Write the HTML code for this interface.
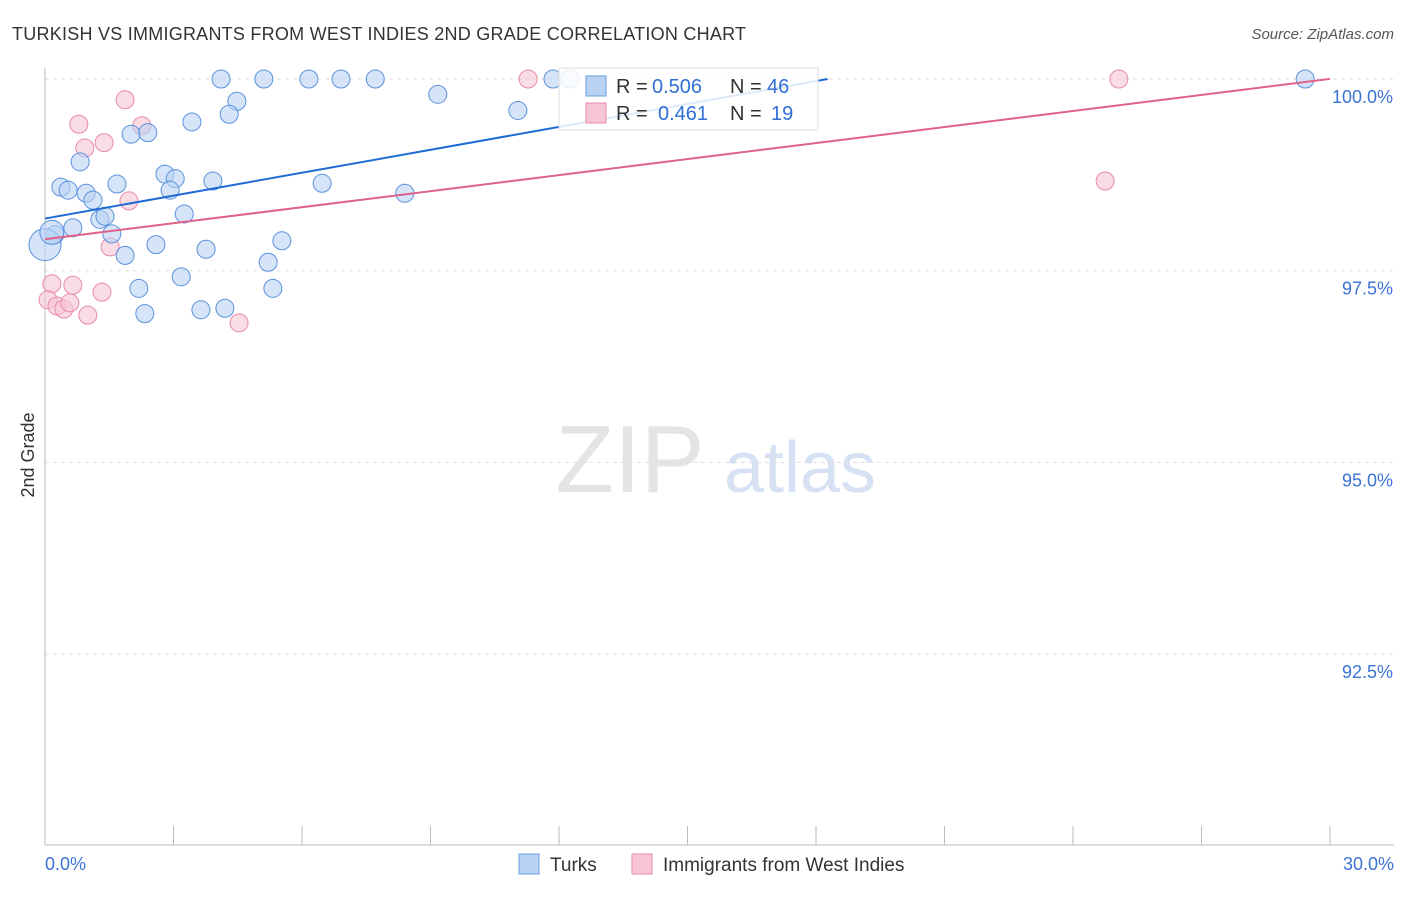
<!DOCTYPE html>
<html><head><meta charset="utf-8"><style>
body{margin:0;background:#fff;font-family:"Liberation Sans",sans-serif;}
svg text{font-family:"Liberation Sans",sans-serif;}
</style></head><body>
<svg width="1406" height="892" xmlns="http://www.w3.org/2000/svg">
<text x="12" y="40" font-size="18" fill="#333" textLength="734">TURKISH VS IMMIGRANTS FROM WEST INDIES 2ND GRADE CORRELATION CHART</text>
<text x="1394" y="39" font-size="15" fill="#555" text-anchor="end" font-style="italic">Source: ZipAtlas.com</text>
<text x="34" y="455" font-size="18" fill="#333" text-anchor="middle" transform="rotate(-90 34 455)">2nd Grade</text>
<text x="630" y="492" font-size="96" fill="#e4e4e4" font-family="Liberation Serif" text-anchor="middle">ZIP</text>
<text x="800" y="492" font-size="72" fill="#d6e2f4" text-anchor="middle">atlas</text>
<g id="grid"></g><g id="axes"></g><g id="pts"></g><g id="lines"></g>
<g>
<rect x="559" y="68" width="259" height="62" fill="#fff" fill-opacity="0.85" stroke="#ddd"/>
<rect x="586" y="76" width="20" height="20" fill="#b9d2f3" stroke="#6a9de0"/>
<text x="616" y="93" font-size="20" fill="#333">R =</text>
<text x="652" y="93" font-size="20" fill="#2f6fd6">0.506</text>
<text x="730" y="93" font-size="20" fill="#333">N =</text>
<text x="767" y="93" font-size="20" fill="#2f6fd6">46</text>
<rect x="586" y="103" width="20" height="20" fill="#f7c5d4" stroke="#e88aa8"/>
<text x="616" y="120" font-size="20" fill="#333">R =</text>
<text x="658" y="120" font-size="20" fill="#2f6fd6">0.461</text>
<text x="730" y="120" font-size="20" fill="#333">N =</text>
<text x="771" y="120" font-size="20" fill="#2f6fd6">19</text>
</g>
<g>
<rect x="519" y="854" width="20" height="20" fill="#b9d2f3" stroke="#6a9de0"/>
<text x="550" y="871" font-size="19" fill="#333">Turks</text>
<rect x="632" y="854" width="20" height="20" fill="#f7c5d4" stroke="#e88aa8"/>
<text x="663" y="871" font-size="19" fill="#333">Immigrants from West Indies</text>
</g>
</svg>
<script>
const blueX=[4.11,5.11,6.16,6.91,7.71,9.17,4.48,4.30,11.04,3.43,2.01,2.40,0.82,2.80,3.04,0.37,0.54,0.96,1.68,3.92,6.47,8.40,2.92,1.12,3.25,1.28,1.40,0.65,0.23,1.56,0.0,2.59,3.76,1.87,5.53,5.21,3.18,2.19,5.32,2.33,3.64,4.20,11.86,12.26,29.42,0.16];
const blueY=[100,100,100,100,100,99.80,99.71,99.54,99.59,99.44,99.28,99.30,98.92,98.76,98.70,98.59,98.55,98.51,98.63,98.67,98.64,98.51,98.55,98.42,98.24,98.17,98.21,98.06,97.97,97.98,97.84,97.84,97.78,97.70,97.89,97.61,97.42,97.27,97.27,96.94,96.99,97.01,100,100,100,98.00];
const pinkX=[1.87,0.79,2.26,0.93,1.38,1.96,1.52,0.16,0.65,1.33,0.07,0.28,0.44,0.58,1.00,4.53,11.28,25.07,24.75];
const pinkY=[99.73,99.41,99.39,99.10,99.17,98.41,97.81,97.33,97.31,97.22,97.12,97.04,97.00,97.08,96.92,96.82,100,100,98.67];
const blueLine=[98.18,0.0996];
const pinkLine=[97.91,0.0697];
const yTicks=[100,97.5,95,92.5];
const yTickLabels=["100.0%","97.5%","95.0%","92.5%"];
const NS="http://www.w3.org/2000/svg";
const sx=v=>45+v/30*1285;
const sy=v=>79+(100-v)/2.5*191.7;
function mk(tag,attrs,parent){const e=document.createElementNS(NS,tag);for(const k in attrs)e.setAttribute(k,attrs[k]);document.getElementById(parent).appendChild(e);return e;}
yTicks.forEach((t,i)=>{
 const l=mk('line',{x1:45,x2:1394,y1:sy(t),y2:sy(t),stroke:'#ddd','stroke-dasharray':'4,4'},'grid');
 
 
 const tx=mk('text',{x:1393,y:sy(t)+24,'font-size':18,fill:'#3b73d6','text-anchor':'end'},'grid');
 tx.textContent=yTickLabels[i];
 
 
});
let a=mk('line',{x1:45,x2:45,y1:68,y2:845,stroke:'#bbb'},'axes');


a=mk('line',{x1:45,x2:1394,y1:845,y2:845,stroke:'#bbb'},'axes');


for(let i=0;i<=10;i++){
 const t=mk('line',{x1:sx(i*3),x2:sx(i*3),y1:826,y2:845,stroke:'#bbb'},'axes');
 
 
}
let t0=mk('text',{x:45,y:870,'font-size':18,fill:'#3b73d6'},'axes');t0.textContent='0.0%';


t0=mk('text',{x:1394,y:870,'font-size':18,fill:'#3b73d6','text-anchor':'end'},'axes');t0.textContent='30.0%';


pinkX.forEach((x,i)=>{
 const c=mk('circle',{cx:sx(x),cy:sy(pinkY[i]),r:9,fill:'#f7c5d4','fill-opacity':0.6,stroke:'#e88aa8','stroke-width':1},'pts');
 
 
});
blueX.forEach((x,i)=>{
 const r=i===30?16:(i===45?12:9);
 const c=mk('circle',{cx:sx(x),cy:sy(blueY[i]),r:r,fill:'#b9d2f3','fill-opacity':0.6,stroke:'#5b92dd','stroke-width':1},'pts');
 
 
});
const bx2=(100-blueLine[0])/blueLine[1];
let ln=mk('line',{x1:sx(0),y1:sy(blueLine[0]),x2:sx(bx2),y2:sy(100),stroke:'#1f6bd6','stroke-width':2},'lines');


ln=mk('line',{x1:sx(0),y1:sy(pinkLine[0]),x2:sx(30),y2:sy(pinkLine[0]+30*pinkLine[1]),stroke:'#e0628c','stroke-width':2},'lines');


</script>
</body></html>
